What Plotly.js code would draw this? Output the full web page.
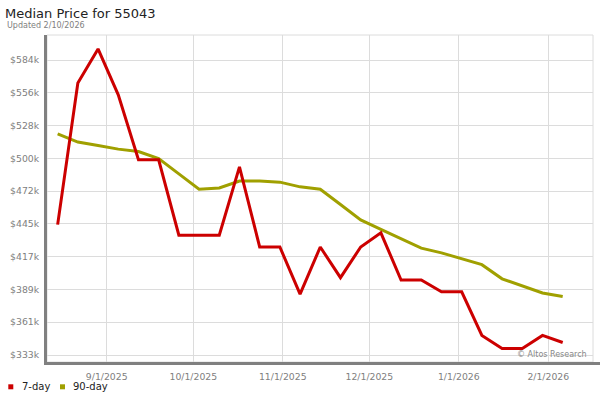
<!DOCTYPE html>
<html>
<head>
<meta charset="utf-8">
<script src="https://cdn.plot.ly/plotly-3.0.1.min.js"></script>
<style>html,body{margin:0;padding:0;background:#fff;}#chart{width:600px;height:400px;}</style>
</head>
<body>
<div id="chart"></div>
<script>
// Weekly dates (Fridays)
var dates = ['2025-08-15','2025-08-22','2025-08-29','2025-09-05','2025-09-12','2025-09-19','2025-09-26',
  '2025-10-03','2025-10-10','2025-10-17','2025-10-24','2025-10-31','2025-11-07','2025-11-14','2025-11-21',
  '2025-11-28','2025-12-05','2025-12-12','2025-12-19','2025-12-26','2026-01-02','2026-01-09','2026-01-16',
  '2026-01-23','2026-01-30','2026-02-06'];
// 7-day median price
var sevenDay = [444000,564000,593000,554000,499000,499000,435000,435000,435000,493000,425000,425000,385000,
  425000,399000,425000,437000,397000,397000,387000,387000,350000,339000,339000,350000,344000];
// 90-day median price
var ninetyDay = [521000,514000,511000,508000,506000,500000,487000,474000,475000,481000,481000,480000,476000,
  474000,461000,448000,440000,432000,424000,420000,415000,410000,398000,392000,386000,383000];
// Axis ticks
var xTickVals = ['2025-09-01','2025-10-01','2025-11-01','2025-12-01','2026-01-01','2026-02-01'];
var xTickText = ['9/1/2025','10/1/2025','11/1/2025','12/1/2025','1/1/2026','2/1/2026'];
var yTickVals = [333400,361200,389000,416800,444600,472400,500200,528000,555800,583600];
var yTickText = ['$333k','$361k','$389k','$417k','$445k','$472k','$500k','$528k','$556k','$584k'];
var seriesNames = ['7-day','90-day'];
var seriesColors = ['#cc0000','#a0a000'];

var F = 'DejaVu Sans, Verdana, sans-serif';
var L = 47, R = 7, T = 35, B = 38;
var W = 600 - L - R, H = 400 - T - B;
function px(x){ return (x - L) / W; }
function py(y){ return (400 - B - y) / H; }

var traces = [
  {x: dates, y: ninetyDay, type: 'scatter', mode: 'lines', name: seriesNames[1],
   line: {color: seriesColors[1], width: 3}, showlegend: false, hoverinfo: 'skip'},
  {x: dates, y: sevenDay, type: 'scatter', mode: 'lines', name: seriesNames[0],
   line: {color: seriesColors[0], width: 3}, showlegend: false, hoverinfo: 'skip'}
];

var shapes = [
  {type: 'rect', xref: 'paper', yref: 'paper', x0: 0, x1: 1, y0: 0, y1: 1,
   line: {color: '#dcdcdc', width: 1}, layer: 'below'},
  {type: 'line', xref: 'paper', yref: 'paper', x0: px(44), x1: px(600), y0: py(363.5), y1: py(363.5),
   line: {color: '#808080', width: 3}},
  {type: 'rect', xref: 'paper', yref: 'paper', x0: px(8.3), x1: px(13.3), y0: py(384.3), y1: py(389.3),
   fillcolor: seriesColors[0], line: {width: 0}},
  {type: 'rect', xref: 'paper', yref: 'paper', x0: px(60), x1: px(65), y0: py(384.3), y1: py(389.3),
   fillcolor: seriesColors[1], line: {width: 0}}
];

var annotations = [
  {text: 'Updated 2/10/2026', xref: 'paper', yref: 'paper', x: px(5), y: py(25), xanchor: 'left', yanchor: 'middle',
   showarrow: false, font: {family: F, size: 8, color: '#808080'}},
  {text: seriesNames[0], xref: 'paper', yref: 'paper', x: px(19.7), y: py(387), xanchor: 'left', yanchor: 'middle',
   showarrow: false, font: {family: F, size: 10, color: '#222'}},
  {text: seriesNames[1], xref: 'paper', yref: 'paper', x: px(70.7), y: py(387), xanchor: 'left', yanchor: 'middle',
   showarrow: false, font: {family: F, size: 10, color: '#222'}},
  {text: '\u00a9 Altos Research', xref: 'paper', yref: 'paper', x: px(589), y: py(354.5), xanchor: 'right', yanchor: 'middle',
   showarrow: false, font: {family: F, size: 8, color: '#888'}}
];

var layout = {
  width: 600, height: 400,
  margin: {l: L, r: R, t: T, b: B, pad: 0},
  paper_bgcolor: '#fff', plot_bgcolor: '#fff',
  font: {family: F, color: '#808080'},
  title: {text: 'Median Price for 55043', xref: 'container', yref: 'container', x: 5/600, xanchor: 'left',
          y: 1 - 13.5/400, yanchor: 'middle', font: {family: F, size: 13, color: '#222'}},
  showlegend: false,
  xaxis: {type: 'date', range: ['2025-08-11 07:26', '2026-02-16 12:00'], tickmode: 'array',
          tickvals: xTickVals, ticktext: xTickText, showgrid: true, gridcolor: '#dcdcdc', gridwidth: 1,
          zeroline: false, showline: false, ticks: '', ticklabelstandoff: 8,
          tickfont: {family: F, size: 9.3, color: '#808080'}, fixedrange: true},
  yaxis: {range: [327460, 604800], tickmode: 'array', tickvals: yTickVals, ticktext: yTickText,
          showgrid: true, gridcolor: '#dcdcdc', gridwidth: 1, zeroline: false,
          showline: true, linecolor: '#808080', linewidth: 3, ticks: '', ticklabelstandoff: 3,
          tickfont: {family: F, size: 9.3, color: '#808080'}, fixedrange: true},
  shapes: shapes,
  annotations: annotations
};

Plotly.newPlot('chart', traces, layout, {displayModeBar: false, staticPlot: true});
</script>
</body>
</html>
